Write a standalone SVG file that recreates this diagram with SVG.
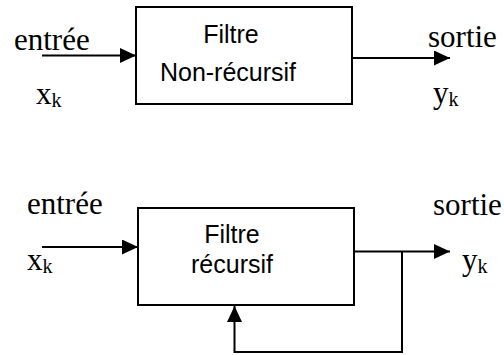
<svg xmlns="http://www.w3.org/2000/svg" width="504" height="355" viewBox="0 0 504 355">
<style>
.box{fill:#fff;stroke:#000;stroke-width:2}
.ln{fill:none;stroke:#000;stroke-width:2}
.ar{font-family:"Liberation Sans",Arial,sans-serif;font-size:25px;fill:#000;text-anchor:middle}
.tm{font-family:"Liberation Serif","Times New Roman",serif;font-size:31px;fill:#000}
.sub{font-size:20px}
</style>
<defs>
<marker id="ah" markerWidth="16" markerHeight="15" refX="16" refY="7.5" orient="auto" markerUnits="userSpaceOnUse">
<path d="M0,0 L16,7.5 L0,15 Z" fill="#000"/>
</marker>
</defs>
<rect width="504" height="355" fill="#fff"/>
<g id="filtre-non-recursif">
<rect class="box" x="136" y="7" width="216" height="97"/>
<text class="ar" x="231" y="43">Filtre</text>
<text class="ar" x="228" y="81">Non-récursif</text>
</g>
<g id="filtre-recursif">
<rect class="box" x="138" y="208" width="216" height="97"/>
<text class="ar" x="232" y="243">Filtre</text>
<text class="ar" x="232" y="273">récursif</text>
</g>
<g id="labels">
<text class="tm" x="14" y="50">entrée</text>
<text class="tm" x="36" y="104">x<tspan class="sub" dy="3">k</tspan></text>
<text class="tm" x="428" y="47">sortie</text>
<text class="tm" x="433" y="103">y<tspan class="sub" dy="3">k</tspan></text>
<text class="tm" x="27" y="214">entrée</text>
<text class="tm" x="27" y="270">x<tspan class="sub" dy="3">k</tspan></text>
<text class="tm" x="433" y="215">sortie</text>
<text class="tm" x="462" y="270">y<tspan class="sub" dy="3">k</tspan></text>
</g>
<g id="connectors">
<line class="ln" x1="42" y1="55.5" x2="136" y2="55.5" marker-end="url(#ah)"/>
<line class="ln" x1="352" y1="58" x2="450" y2="58" marker-end="url(#ah)"/>
<line class="ln" x1="42" y1="247" x2="138" y2="247" marker-end="url(#ah)"/>
<line class="ln" x1="354" y1="251.5" x2="450" y2="251.5" marker-end="url(#ah)"/>
<polyline class="ln" points="402,251.5 402,352 234.5,352 234.5,306" marker-end="url(#ah)"/>
</g>
</svg>
